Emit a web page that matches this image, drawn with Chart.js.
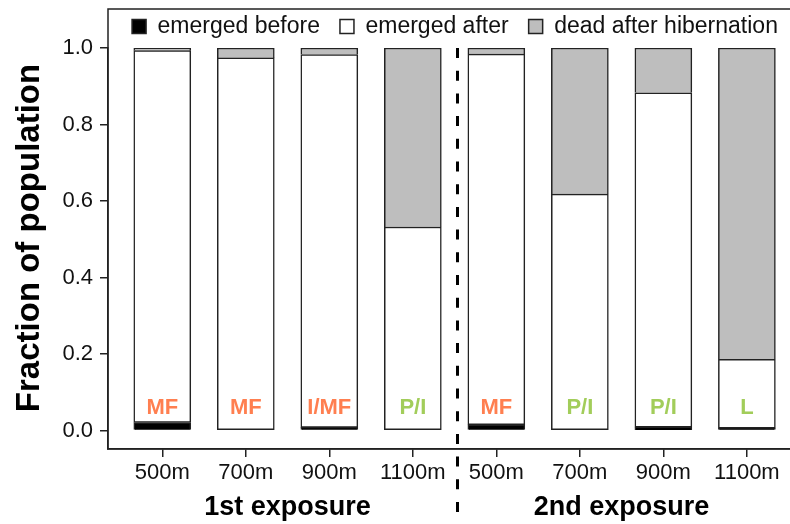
<!DOCTYPE html>
<html>
<head>
<meta charset="utf-8">
<script src="https://cdn.jsdelivr.net/npm/chart.js@4.4.1/dist/chart.umd.min.js"></script>
<style>
  html, body { margin: 0; padding: 0; background: #fff; overflow: hidden; }
  #wrap { width: 812px; height: 524px; position: relative; }
</style>
</head>
<body>
<div id="wrap"><canvas id="survival"></canvas></div>
<script>
// elevation of each site, two exposures of four sites each
const elevations = ['500m', '700m', '900m', '1100m', '500m', '700m', '900m', '1100m'];
const stages = ['MF', 'MF', 'I/MF', 'P/I', 'MF', 'P/I', 'P/I', 'L'];
const exposures = ['1st exposure', '2nd exposure'];

// fraction of population per outcome
const emergedBefore = [0.021, 0, 0.008, 0, 0.015, 0, 0.009, 0.006];
const emergedAfter = [0.972, 0.974, 0.975, 0.532, 0.969, 0.618, 0.874, 0.180];
const deadAfter = [0.007, 0.026, 0.017, 0.468, 0.016, 0.382, 0.117, 0.814];

const yTicks = [0, 0.2, 0.4, 0.6, 0.8, 1.0];

const stageColors = { 'MF': '#FF7F50', 'I/MF': '#FF7F50', 'P/I': '#A2CD5A', 'L': '#A2CD5A' };
const ink = '#222';
const family = "'Liberation Sans', Arial, Helvetica, sans-serif";
const stageLevel = 0.06;

Chart.defaults.font.family = family;
Chart.defaults.color = '#000';

function toPoints(values) {
    return values.map((v, i) => ({ x: i, y: v }));
}

function segment(label, values, fill, skipped) {
    return {
        label: label,
        data: toPoints(values),
        backgroundColor: fill,
        borderColor: ink,
        borderWidth: 1.5,
        borderSkipped: skipped,
        barThickness: 57
    };
}

// frame, group separator, stage names and the outer titles
const decorations = {
    id: 'decorations',
    afterDraw(chart) {
        const { ctx, chartArea, scales: { x, y } } = chart;
        ctx.save();

        ctx.strokeStyle = ink;
        ctx.lineWidth = 1.5;
        ctx.strokeRect(chartArea.left, 9, chartArea.right - chartArea.left, chartArea.bottom - 9);

        const sep = x.getPixelForValue(3.535);
        ctx.beginPath();
        ctx.setLineDash([10, 12.7]);
        ctx.lineWidth = 3;
        ctx.strokeStyle = '#000';
        ctx.moveTo(sep, y.getPixelForValue(1));
        ctx.lineTo(sep, chart.height);
        ctx.stroke();
        ctx.setLineDash([]);

        ctx.textAlign = 'center';
        ctx.textBaseline = 'middle';
        ctx.font = 'bold 22px ' + family;
        stages.forEach((s, i) => {
            ctx.fillStyle = stageColors[s];
            ctx.fillText(s, x.getPixelForValue(i), y.getPixelForValue(stageLevel));
        });

        ctx.fillStyle = '#000';
        ctx.font = 'bold 27px ' + family;
        exposures.forEach((e, g) => {
            ctx.fillText(e, x.getPixelForValue(g * 4 + 1.5), 508);
        });

        ctx.translate(30, 238);
        ctx.rotate(-Math.PI / 2);
        ctx.font = 'bold 33px ' + family;
        ctx.fillText('Fraction of population', 0, 0);
        ctx.restore();
    }
};

const ctx = document.getElementById('survival').getContext('2d');
new Chart(ctx, {
    type: 'bar',
    data: {
        datasets: [
            segment('emerged before', emergedBefore, '#000', 'start'),
            segment('emerged after', emergedAfter, '#fff', false),
            segment('dead after hibernation', deadAfter, '#BEBEBE', 'start')
        ]
    },
    options: {
        responsive: true,
        maintainAspectRatio: false,
        animation: false,
        layout: { padding: { left: 0, top: -5, right: 10, bottom: 0 } },
        plugins: {
            legend: {
                position: 'top',
                fullSize: false,
                labels: {
                    boxWidth: 14,
                    boxHeight: 14,
                    padding: 20,
                    color: '#111',
                    font: { size: 23 }
                }
            },
            tooltip: { enabled: false }
        },
        scales: {
            x: {
                type: 'linear',
                stacked: true,
                offset: false,
                min: -0.65,
                max: 7.66,
                afterBuildTicks: (scale) => {
                    scale.ticks = elevations.map((_, i) => ({ value: i }));
                },
                afterFit: (scale) => { scale.height = 75; },
                ticks: {
                    autoSkip: false,
                    maxRotation: 0,
                    padding: 3,
                    font: { size: 22 },
                    color: '#111',
                    callback: (v) => elevations[v]
                },
                grid: { offset: false, drawOnChartArea: false, tickLength: 8, color: ink, lineWidth: 1.5 },
                border: { color: ink, width: 1.5 }
            },
            y: {
                stacked: true,
                min: -0.0484,
                max: 1.0,
                afterBuildTicks: (scale) => {
                    scale.ticks = yTicks.map(v => ({ value: v }));
                },
                afterFit: (scale) => { scale.width = 108; },
                ticks: {
                    padding: 7,
                    font: { size: 22 },
                    color: '#111',
                    callback: (v) => v.toFixed(1)
                },
                grid: { drawOnChartArea: false, tickLength: 8, color: ink, lineWidth: 1.5 },
                border: { color: ink, width: 1.5 }
            }
        }
    },
    plugins: [decorations]
});
</script>
</body>
</html>
